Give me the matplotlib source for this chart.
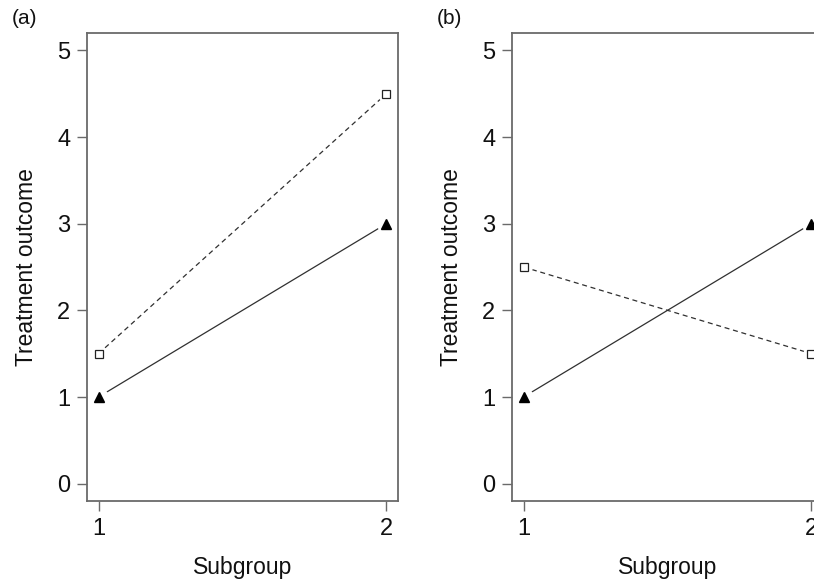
import matplotlib
matplotlib.use("Agg")
import matplotlib.pyplot as plt

plt.rcParams['font.family'] = ['Liberation Sans', 'DejaVu Sans']

subgroups = [1, 2]
panel_labels = ["(a)", "(b)"]
# panel (a)
a_triangle = [1.0, 3.0]
a_square = [1.5, 4.5]
# panel (b)
b_triangle = [1.0, 3.0]
b_square = [2.5, 1.5]
yticks = [0, 1, 2, 3, 4, 5]

W, H = 814, 579
fig = plt.figure(figsize=(W / 100, H / 100), dpi=100)
fig.patch.set_facecolor("white")

frame_col = "#6a6a6a"
line_col = "#303030"

positions = [
    [87 / W, 1 - 501 / H, 311 / W, 468 / H],
    [512 / W, 1 - 501 / H, 311 / W, 468 / H],
]
series = [(a_triangle, a_square), (b_triangle, b_square)]

for pos, (tri, sq), lab in zip(positions, series, panel_labels):
    ax = fig.add_axes(pos)
    ax.set_xlim(0.96, 2.04)
    ax.set_ylim(-0.2, 5.2)
    # lines
    ax.plot(subgroups, tri, color=line_col, lw=0.9, zorder=2)
    ax.plot(subgroups, sq, color=line_col, lw=0.9, ls=(0, (4, 3)), zorder=2)
    # white gaps around points (R type="b")
    ax.plot(subgroups, tri, ls='none', marker='o', ms=13.5, mfc='white', mec='none', zorder=2.2)
    ax.plot(subgroups, sq, ls='none', marker='o', ms=12, mfc='white', mec='none', zorder=2.2)
    # markers
    ax.plot(subgroups, tri, ls='none', marker='^', ms=6.5, mfc='black', mec='black', zorder=3)
    ax.plot(subgroups, sq, ls='none', marker='s', ms=5.5, mfc='white', mec='#222222', mew=0.9, zorder=3)

    for s in ax.spines.values():
        s.set_color(frame_col)
        s.set_linewidth(1.3)
    ax.set_xticks(subgroups)
    ax.set_yticks(yticks)
    ax.tick_params(axis='both', direction='out', length=7, width=1.0, color=frame_col,
                   labelsize=17, pad=5, labelcolor='#111111')
    ax.set_xlabel("Subgroup", fontsize=16.5, color='#111111', labelpad=12)
    ax.set_ylabel("Treatment outcome", fontsize=16.5, color='#111111', labelpad=14)
    fig.text(pos[0] - 75 / W, 1 - 19 / H, lab, fontsize=15, ha='left', va='center', color='#111111')

fig.savefig("out.png", dpi=100, facecolor="white")
